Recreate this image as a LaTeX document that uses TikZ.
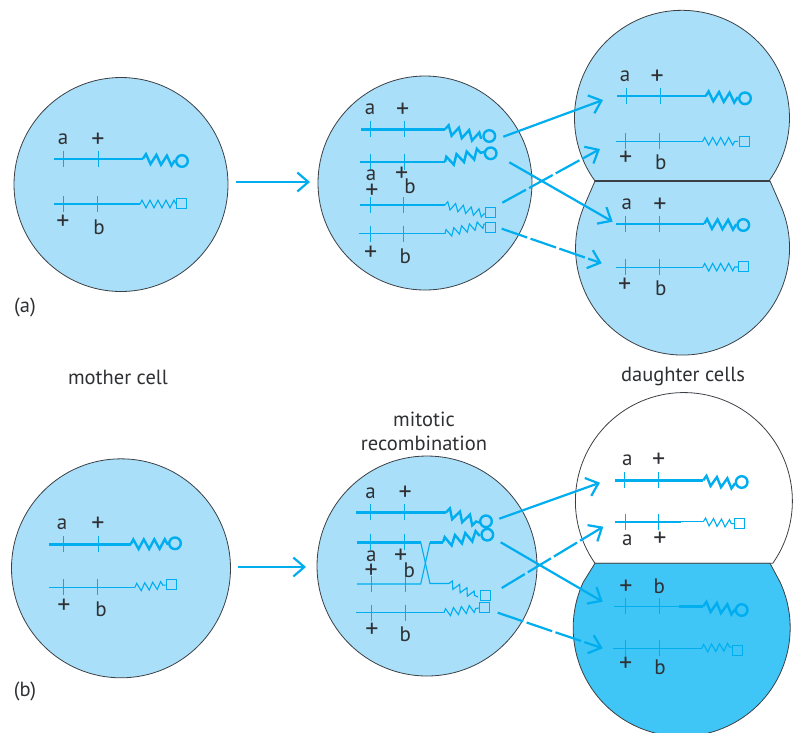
\documentclass[tikz,border=0pt]{standalone}
\usepackage{fontspec}
\setmainfont{PT Sans}
\usetikzlibrary{arrows.meta,decorations.pathmorphing}
\definecolor{cellBlue}{HTML}{A9DFF9}
\definecolor{deepBlue}{HTML}{3FC5F6}
\definecolor{chromLine}{HTML}{00AEEF}
\definecolor{cellLine}{HTML}{3C4045}
\definecolor{labelGray}{HTML}{2E3033}

% one tick pair on a chromosome: x of first tick, x of second tick, y
\newcommand{\chrticks}[3]{
  \draw[tickline] (#1,#3-8) -- (#1,#3+8);
  \draw[tickline] (#2,#3-8) -- (#2,#3+8);
}
% spring plus round end: knee, spring end, centre
\newcommand{\circtail}[3]{
  \draw[thickarm, thickspring] (#1) -- (#2);
  \draw[thickarm] (#3) circle[radius=5.8];
}
% spring plus square end: knee, spring end, centre
\newcommand{\sqtail}[3]{
  \draw[thinarm, thinspring] (#1) -- (#2);
  \node[sqend] (sq) at (#3) {};
}
% whole chromosomes: x start, tick, tick, y, x knee, spring end, end centre
\newcommand{\circchrom}[7]{
  \draw[thickarm] (#1,#4) -- (#5,#4);
  \chrticks{#2}{#3}{#4}
  \circtail{#5,#4}{#6}{#7}
}
\newcommand{\sqchrom}[7]{
  \draw[thinarm] (#1,#4) -- (#5,#4);
  \chrticks{#2}{#3}{#4}
  \sqtail{#5,#4}{#6}{#7}
}
% the plus sign sits larger than the letters
\newcommand{\plusmark}{{\fontsize{26}{26}\selectfont +}}

\begin{document}
\begin{tikzpicture}[
    x=1pt, y=-1pt,
    cell/.style={circle, draw=cellLine, fill=cellBlue, line width=0.8pt, inner sep=0pt},
    cellpath/.style={draw=cellLine, line width=0.8pt},
    divider/.style={draw=cellLine, line width=1.3pt},
    thickarm/.style={draw=chromLine, line width=2.4pt},
    thinarm/.style={draw=chromLine, line width=1.1pt},
    tickline/.style={draw=chromLine, line width=0.9pt},
    thickspring/.style={decorate, decoration={zigzag, amplitude=4.8pt, segment length=10.5pt}},
    thinspring/.style={decorate, decoration={zigzag, amplitude=3.8pt, segment length=8pt}},
    sqend/.style={rectangle, draw=chromLine, line width=1pt, minimum size=10pt, inner sep=0pt},
    gene/.style={font=\fontsize{21}{21}\selectfont, text=labelGray, inner sep=0pt},
    caption/.style={font=\fontsize{20.5}{24}\selectfont, text=labelGray, align=center, inner sep=0pt},
    arrow/.style={-{Straight Barb[length=11pt, width=19pt, line width=2.2pt]}, draw=chromLine, line width=2.2pt},
    dasharrow/.style={arrow, dash pattern=on 27pt off 3.5pt}
  ]
  \clip (0,0) rectangle (797,732);

  % cells, panel a
  \node[cell, minimum size=214pt] (mothera) at (121,184.5) {};
  \node[cell, minimum size=214pt] (middlea) at (425,183) {};
  \coordinate (waistal) at (595,181);
  \coordinate (waistar) at (770,181);
  \draw[cellpath, fill=cellBlue] (waistal) arc[start angle=216, end angle=-36, radius=107.5pt] -- (waistar) -- cycle;
  \draw[cellpath, fill=cellBlue] (waistar) -- (779.5,202.8) arc[start angle=25, end angle=-205, radius=107pt] -- (waistal) -- cycle;
  \draw[divider] (waistal) -- (waistar);

  % cells, panel b
  \node[cell, minimum size=219pt] (motherb) at (121,568.3) {};
  \node[cell, minimum size=220pt] (middleb) at (427,566) {};
  \coordinate (waistbl) at (595,563.3);
  \coordinate (waistbr) at (770,563.3);
  \draw[cellpath, fill=white] (waistbl) arc[start angle=215, end angle=-35, radius=108.5pt] -- (waistbr) -- cycle;
  \draw[cellpath, fill=deepBlue] (waistbr) -- (780,582) arc[start angle=25, end angle=-205, radius=108.5pt] -- (waistbl) -- cycle;

  % chromosomes, panel a
  \circchrom{54}{63.5}{98}{158.7}{143}{175,161}{182,161}
  \sqchrom{54}{63.5}{97.5}{204}{140}{176,204}{181.7,203}

  \circchrom{361}{370.7}{404}{129.3}{445}{482,138}{489.3,136}
  \circchrom{360}{370.7}{404}{162}{445}{485,151.7}{490.7,153.3}
  \sqchrom{360}{370.7}{403.3}{205}{445}{485,214}{490.3,212.7}
  \sqchrom{359.3}{370.7}{403.3}{233.7}{445}{485,224}{490.3,227.7}

  \circchrom{617.3}{626.3}{660.7}{96}{705.7}{738,98}{745,98.3}
  \sqchrom{615.7}{625.7}{659.7}{141.3}{702.7}{738,141.3}{744,141}
  \circchrom{616}{625}{659.7}{223.7}{704.3}{736.7,225}{743.3,225}
  \sqchrom{615.7}{625.7}{659.7}{267.3}{702.7}{738,267}{743.7,266.7}

  % chromosomes, panel b
  \circchrom{49.3}{63.3}{98}{544.3}{130.7}{168.3,544}{175,543.3}
  \sqchrom{49}{63.3}{97}{587.3}{135}{165.7,585}{171,584}

  \circchrom{355.7}{370.7}{404}{512.3}{446}{480,522.7}{486,521.3}
  % crossover between the two inner arms
  \draw[thickarm] (356.7,542.3) -- (420.7,542.3);
  \draw[thinarm] (420.7,542.3) -- (430,583.5) -- (449,583.5);
  \sqtail{449,583.5}{478,597}{485,595}
  \draw[thinarm] (357,584) -- (420.7,584) -- (430,542.3);
  \draw[thickarm] (430,542.3) -- (443,542.3);
  \circtail{443,542.3}{480,535}{487.3,534.7}
  \chrticks{370.7}{404}{542.3}
  \chrticks{371.7}{405}{584}
  \sqchrom{356}{371.7}{405}{612.7}{444}{479,608}{484,607.3}

  \circchrom{615}{624}{658.7}{480.3}{703.3}{735,484}{741.7,482}
  \draw[thickarm] (615,521.7) -- (680.7,521.7);
  \draw[thinarm] (680.7,521.7) -- (703.3,521.7);
  \chrticks{625.5}{658.7}{521.7}
  \sqtail{703.3,521.7}{734,523.7}{739.3,523.7}
  \draw[thinarm] (614.3,606.3) -- (679.3,606.3);
  \draw[thickarm] (679.3,606.3) -- (703.3,606.3);
  \chrticks{625.7}{659}{606.3}
  \circtail{703.3,606.3}{735,610}{741.7,610}
  \sqchrom{613.3}{625.7}{659}{648.3}{701.7}{731.7,647}{737.3,650}

  % gene labels
  \foreach \nm/\px/\py/\txt in {
      aa/63/139/a, ab/98/140/\plusmark, ac/63/222/\plusmark, ad/99/227/b,
      ba/370/109.5/a, bb/402.7/110.7/\plusmark, bc/371/175.7/a, bd/401.7/174/\plusmark,
      be/410/186.7/b, bf/372/191.7/\plusmark, bg/370.7/253/\plusmark, bh/405.3/256.7/b,
      ca/625/76/a, cb/657.3/77.3/\plusmark, cc/625.7/158.3/\plusmark, cd/660.7/162.3/b,
      ce/626.7/204.7/a, cf/660/205.3/\plusmark, cg/624.7/285.3/\plusmark, ch/660.7/288.3/b,
      da/62/524/a, db/98/524/\plusmark, dc/64/606/\plusmark, dd/101/609.3/b,
      ea/370.7/493.3/a, eb/405.3/493.3/\plusmark, ec/371.3/556/a, ed/400.7/556/\plusmark,
      ee/409.3/570/b, ef/371.3/571.7/\plusmark, eg/372/630.3/\plusmark, eh/405.3/634/b,
      fa/627.3/460.7/a, fb/658.7/460.7/\plusmark, fc/627.3/540/a, fd/660/539.3/\plusmark,
      fe/626/587.3/\plusmark, ff/659.3/586/b, fg/625.7/664.3/\plusmark, fh/660/667.3/b}
    \node[gene] (\nm) at (\px,\py) {\txt};

  % captions
  \node[caption] (panela) at (25,307) {(a)};
  \node[caption] (panelb) at (25,691) {(b)};
  \node[caption] (mothercap) at (118,377) {mother cell};
  \node[caption] (daughtercap) at (683,376.5) {daughter cells};
  \node[caption] (recomb) at (424,431) {mitotic\\recombination};

  % arrow ends
  \coordinate (a0s) at (236,182);    \coordinate (a0e) at (310,182);
  \coordinate (a1s) at (503.3,136.7); \coordinate (a1e) at (603,100);
  \coordinate (a2s) at (509.3,162.3); \coordinate (a2e) at (612.7,221.7);
  \coordinate (a3s) at (502.3,202.7); \coordinate (a3e) at (600,149);
  \coordinate (a4s) at (501.7,228.7); \coordinate (a4e) at (601.7,263.3);
  \coordinate (b0s) at (238,567);    \coordinate (b0e) at (306,567);
  \coordinate (b1s) at (499.3,518.7); \coordinate (b1e) at (600,482.7);
  \coordinate (b2s) at (500.7,542.3); \coordinate (b2e) at (602.7,601.7);
  \coordinate (b3s) at (501.7,588);  \coordinate (b3e) at (603.3,526.7);
  \coordinate (b4s) at (497.7,612.7); \coordinate (b4e) at (602.7,648.3);

  \draw[arrow] (a0s) -- (a0e);
  \draw[arrow] (a1s) -- (a1e);
  \draw[arrow] (a2s) -- (a2e);
  \draw[dasharrow] (a3s) -- (a3e);
  \draw[dasharrow] (a4s) -- (a4e);
  \draw[arrow] (b0s) -- (b0e);
  \draw[arrow] (b1s) -- (b1e);
  \draw[arrow] (b2s) -- (b2e);
  \draw[dasharrow] (b3s) -- (b3e);
  \draw[dasharrow] (b4s) -- (b4e);
\end{tikzpicture}
\end{document}
